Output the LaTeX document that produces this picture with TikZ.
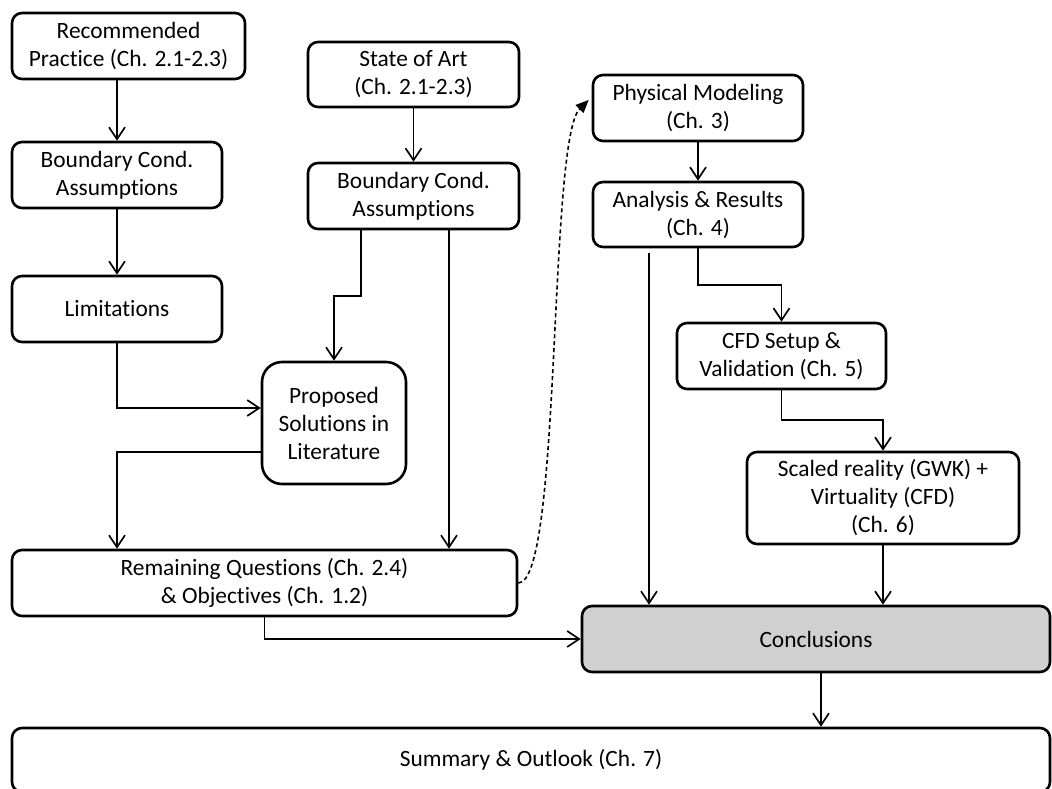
\documentclass[tikz,border=0pt]{standalone}
\usepackage{fontspec}
\setmainfont{Carlito}[Ligatures=NoCommon]
\usetikzlibrary{arrows.meta}
\tikzset{
  box/.style={draw, line width=2.6pt, rounded corners=10pt, align=center, inner sep=0pt,
    font=\fontsize{23.4}{28}\selectfont},
  arr/.style={line width=1.7pt, -{Straight Barb[length=12pt,width=16pt]}},
  dasharr/.style={line width=1.6pt, dash pattern=on 4pt off 3pt, -{Triangle[length=13pt,width=11pt]}},
}
\begin{document}
\begin{tikzpicture}[x=1pt,y=-1pt]
\useasboundingbox (0,0) rectangle (1052,789);
% nodes
\node[box, minimum width=233pt, minimum height=66pt] (rec) at (128.5,46) {Recommended\\Practice (Ch. 2.1-2.3)};
\node[box, minimum width=210pt, minimum height=66pt] (b1) at (117,175) {Boundary Cond.\\Assumptions};
\node[box, minimum width=210pt, minimum height=66pt] (lim) at (117,309) {Limitations};
\node[box, minimum width=211pt, minimum height=65pt] (soa) at (413.5,74.5) {State of Art\\(Ch. 2.1-2.3)};
\node[box, minimum width=211pt, minimum height=66pt] (b2) at (413.5,196) {Boundary Cond.\\Assumptions};
\node[box, rounded corners=20pt, minimum width=144pt, minimum height=122pt] (prop) at (334,423) {Proposed\\Solutions in\\Literature};
\node[box, minimum width=505pt, minimum height=66pt] (rem) at (264.5,583) {Remaining Questions (Ch. 2.4)\\\& Objectives (Ch. 1.2)};
\node[box, minimum width=210pt, minimum height=66pt] (phys) at (698,108) {Physical Modeling\\(Ch. 3)};
\node[box, minimum width=210pt, minimum height=65pt] (anal) at (698,214.5) {Analysis \& Results\\(Ch. 4)};
\node[box, minimum width=209pt, minimum height=66pt] (cfd) at (781.5,356) {CFD Setup \&\\Validation (Ch. 5)};
\node[box, minimum width=272pt, minimum height=92pt] (scal) at (883,498) {Scaled reality (GWK) +\\Virtuality (CFD)\\(Ch. 6)};
\node[box, fill={rgb,255:red,208;green,208;blue,208}, minimum width=468pt, minimum height=66pt] (conc) at (816,639) {Conclusions};
\node[box, minimum width=1038pt, minimum height=64pt] (sum) at (531,760) {Summary \& Outlook (Ch. 7)};
% bend points
\coordinate (k1) at (361,296);
\coordinate (k2) at (698,285);
\coordinate (k3) at (781.5,420);
% connectors
\draw[arr] (rec.south -| b1.north) -- (b1.north);
\draw[arr] (b1.south) -- (lim.north);
\draw[arr] (lim.south) |- ([yshift=15pt]prop.west);
\draw[arr] (soa.south) -- (b2.north);
\draw[arr] (b2.south -| k1) -- (k1) -| (prop.north);
\draw[arr] ([xshift=35.5pt]b2.south) -- ([xshift=35.5pt]b2.south |- rem.north);
\draw[arr] ([yshift=-29pt]prop.west) -| (lim.south |- rem.north);
\draw[arr] (rem.south) |- (conc.west);
\draw[dasharr] (rem.east) .. controls (562,583) and (548,140) .. ([xshift=-3pt,yshift=8pt]phys.west);
\draw[arr] (phys.south) -- (anal.north);
\draw[arr] ([xshift=-49pt,yshift=-5pt]anal.south) -- ([xshift=-49pt]anal.south |- conc.north);
\draw[arr] (anal.south) -- (k2) -| (cfd.north);
\draw[arr] (cfd.south) -- (k3) -| (scal.north);
\draw[arr] (scal.south) -- (scal.south |- conc.north);
\draw[arr] ([xshift=5pt]conc.south) -- ([xshift=5pt]conc.south |- sum.north);
\end{tikzpicture}
\end{document}
